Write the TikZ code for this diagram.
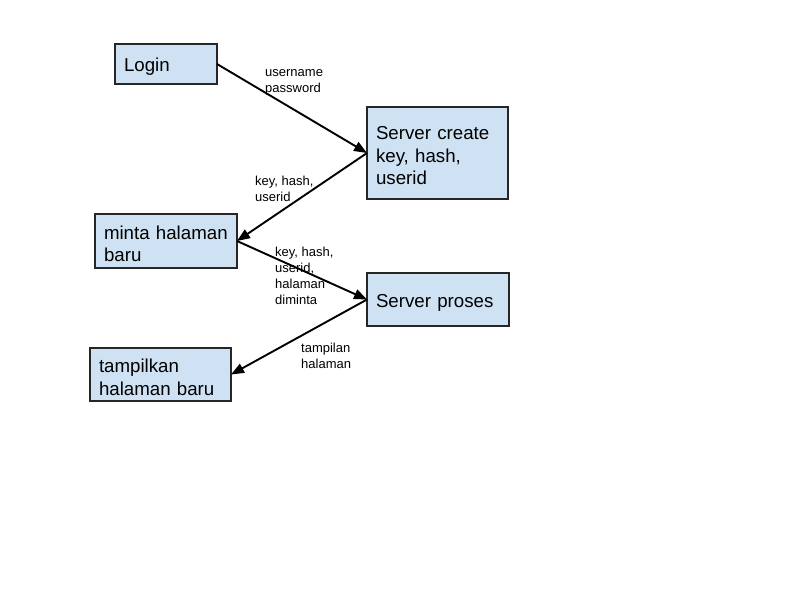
\documentclass[tikz,border=0pt]{standalone}
\usepackage{fontspec}
\setmainfont{Liberation Sans}
\usetikzlibrary{arrows.meta}
\definecolor{boxfill}{HTML}{CFE2F3}
\definecolor{boxline}{HTML}{262626}
\tikzset{
  box/.style={draw=boxline, fill=boxfill, line width=1.7pt, rectangle, inner sep=0pt, outer sep=0pt},
  boxtext/.style={inner sep=0pt, align=left, font=\fontsize{18.7}{22.5}\selectfont},
  lbl/.style={align=left, inner sep=0pt, anchor=west, font=\fontsize{13}{16}\selectfont},
  conn/.style={line width=1.9pt, -{Triangle[length=13pt,width=10pt]}, black}
}
\begin{document}
\begin{tikzpicture}[x=1pt,y=-1pt]
\useasboundingbox (0,0) rectangle (800,600);
\node[box, minimum width=102pt, minimum height=40pt] (login) at (166,64) {};
\node[box, minimum width=141pt, minimum height=92pt] (create) at (437.5,153) {};
\node[box, minimum width=142pt, minimum height=54pt] (minta) at (166,241) {};
\node[box, minimum width=142pt, minimum height=53pt] (proses) at (438,299.5) {};
\node[box, minimum width=141pt, minimum height=53pt] (tampil) at (160.5,374.5) {};
\node[boxtext, text width=84pt] (logint) at ([yshift=-3pt]login) {Login};
\node[boxtext, text width=123pt] (createt) at ([yshift=-3pt]create) {Server create\\key, hash,\\userid};
\node[boxtext, text width=124pt] (mintat) at ([yshift=-3pt]minta) {minta halaman\\baru};
\node[boxtext, text width=124pt] (prosest) at ([yshift=-3pt]proses) {Server proses};
\node[boxtext, text width=123pt] (tampilt) at ([yshift=-3pt]tampil) {tampilkan\\halaman baru};
\draw[conn] (login.east) -- (create.west);
\draw[conn] (create.west) -- (minta.east);
\draw[conn] (minta.east) -- (proses.west);
\draw[conn] (proses.west) -- (tampil.east);
\node[lbl] (l1) at (265,82) {username\\password};
\node[lbl] (l2) at (255,188.5) {key, hash,\\userid};
\node[lbl] (l3) at (275,275.5) {key, hash,\\userid,\\halaman\\diminta};
\node[lbl] (l4) at (301,355.5) {tampilan\\halaman};
\end{tikzpicture}
\end{document}
